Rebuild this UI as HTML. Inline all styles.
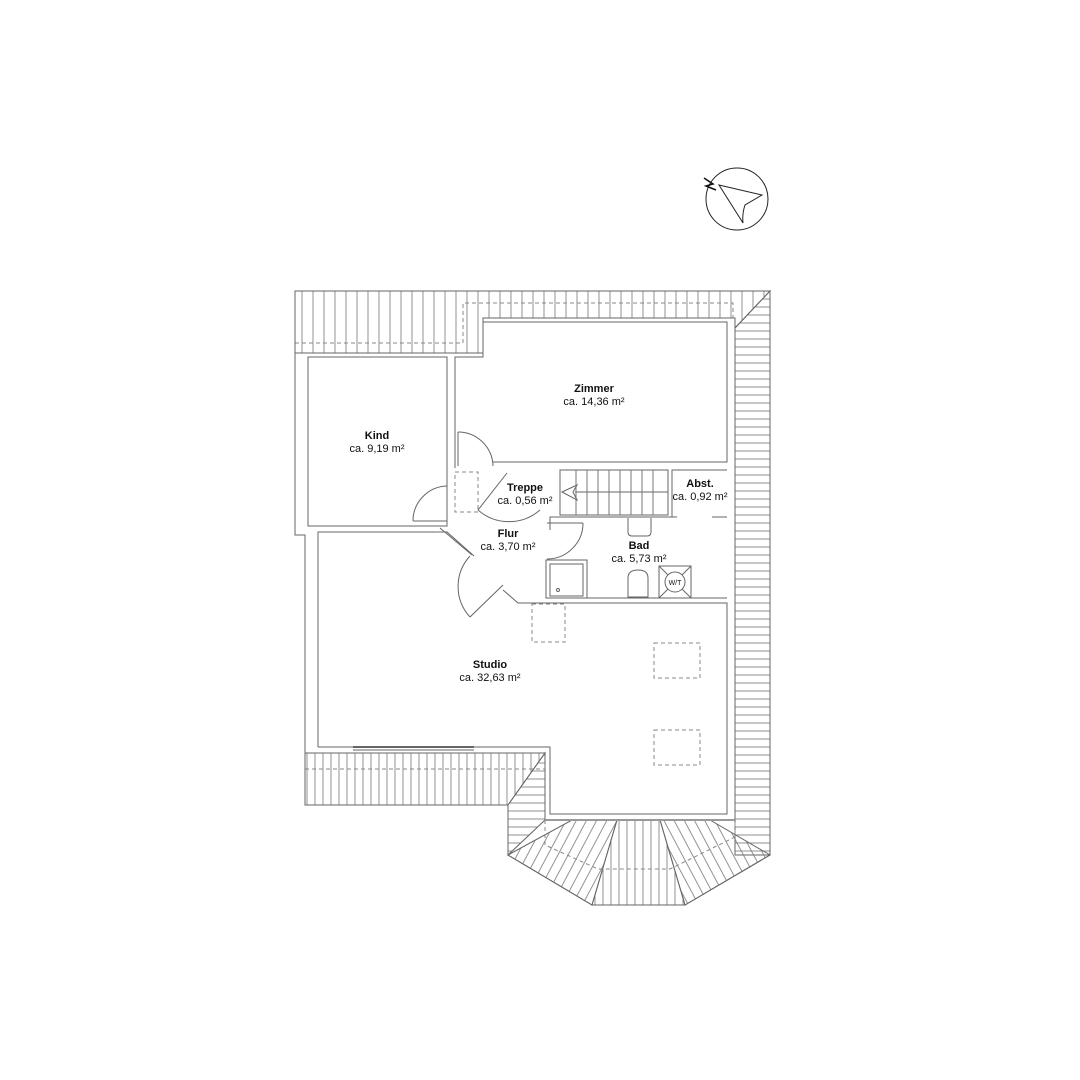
<!DOCTYPE html>
<html><head><meta charset="utf-8"><style>
html,body{margin:0;padding:0;background:#fff;}
svg{display:block}
text{font-family:"Liberation Sans",Arial,sans-serif;font-size:11px;fill:#111;text-anchor:middle}
.b{font-weight:bold}
</style></head><body>
<svg width="1080" height="1080" viewBox="0 0 1080 1080" xmlns="http://www.w3.org/2000/svg">
<defs>
<pattern id="pv" width="11" height="10" patternUnits="userSpaceOnUse"><line x1="5" y1="0" x2="5" y2="10" stroke="#777" stroke-width="0.8"/></pattern>
<pattern id="pv8" width="8" height="10" patternUnits="userSpaceOnUse"><line x1="3" y1="0" x2="3" y2="10" stroke="#777" stroke-width="0.8"/></pattern>
<pattern id="ph" width="10" height="8" patternUnits="userSpaceOnUse"><line x1="0" y1="3" x2="10" y2="3" stroke="#777" stroke-width="0.8"/></pattern>
<pattern id="pl" width="9" height="10" patternUnits="userSpaceOnUse" patternTransform="rotate(28)"><line x1="3" y1="0" x2="3" y2="10" stroke="#777" stroke-width="0.8"/></pattern>
<pattern id="pr" width="9" height="10" patternUnits="userSpaceOnUse" patternTransform="rotate(-28)"><line x1="3" y1="0" x2="3" y2="10" stroke="#777" stroke-width="0.8"/></pattern>
</defs>
<g stroke="#666" stroke-width="1" fill="none">
<polygon points="295,291 770,291 735,328 735,318 483,318 483,353 295,353" fill="url(#pv)"/>
<polygon points="735,328 770,291 770,855 735,855" fill="url(#ph)"/>
<polygon points="305,753 545,753 508,805 305,805" fill="url(#pv8)"/>
<polygon points="545,753 545,820 508,855 508,805" fill="url(#ph)"/>
<polygon points="508,855 572,820 617,820 592,905" fill="url(#pl)"/>
<polygon points="617,820 660,820 685,905 592,905" fill="url(#pv8)"/>
<polygon points="660,820 710,820 770,855 685,905" fill="url(#pr)"/>
<polyline points="508,855 592,905 685,905 770,855"/>
<g stroke-dasharray="4,3" stroke="#888">
<polyline points="295,343 463,343 463,303 733,303 733,318"/>
<line x1="305" y1="769" x2="545" y2="769"/>
<polyline points="545,820 545,845 598,869 670,869 735,837 735,820"/>
<rect x="455" y="472" width="23" height="40"/>
<rect x="532" y="604" width="33" height="38"/>
<rect x="654" y="643" width="46" height="35"/>
<rect x="654" y="730" width="46" height="35"/>
</g>
<polyline points="295,291 295,535 305,535 305,805"/>
<rect x="308" y="357" width="139" height="169"/>
<polyline points="455,468 455,357 483,357 483,322 727,322 727,462 493,462"/>
<polyline points="447,357 447,488"/>
<polyline points="318,747 318,532 447,532 474,556"/>
<polyline points="440,528 472,555"/>
<polyline points="318,747 550,747 550,814 727,814 727,603 518,603 503,590"/>
<polyline points="735,322 735,820"/>
<line x1="545" y1="820" x2="735" y2="820" stroke="#999" stroke-width="2"/>
<line x1="353" y1="747" x2="474" y2="747" stroke-width="2"/>
<line x1="353" y1="750" x2="474" y2="750"/>
<polyline points="550,530 550,517 677,517"/>
<polyline points="712,517 727,517"/>
<line x1="547" y1="598" x2="727" y2="598"/>
<polyline points="672,517 672,470 727,470"/>
<rect x="560" y="470" width="108" height="45"/>
<line x1="575" y1="492" x2="668" y2="492"/>
<g stroke="#777">
<line x1="576" y1="470" x2="576" y2="515"/><line x1="587" y1="470" x2="587" y2="515"/><line x1="598" y1="470" x2="598" y2="515"/><line x1="609" y1="470" x2="609" y2="515"/><line x1="620" y1="470" x2="620" y2="515"/><line x1="631" y1="470" x2="631" y2="515"/><line x1="642" y1="470" x2="642" y2="515"/><line x1="653" y1="470" x2="653" y2="515"/>
</g>
<polygon points="562,492 577,485 573,492 577,500" fill="#fff"/>
<line x1="458" y1="432" x2="458" y2="466"/><path d="M458,432 A35,35 0 0 1 493,466"/>
<line x1="413" y1="521" x2="447" y2="521"/><path d="M413,521 A35,35 0 0 1 447,486"/>
<line x1="507" y1="473" x2="478" y2="510"/><path d="M478,510 A47,47 0 0 0 540,510"/>
<line x1="547" y1="523" x2="583" y2="523"/><path d="M583,523 A36,36 0 0 1 547,559"/>
<line x1="503" y1="585" x2="470" y2="617"/><path d="M470,617 A45,45 0 0 1 470,556"/>
<rect x="546" y="560" width="41" height="38"/><rect x="550" y="564" width="33" height="32"/>
<circle cx="558" cy="590" r="1.5"/>
<path d="M628,518 L628,532 Q628,536 632,536 L647,536 Q651,536 651,532 L651,518"/>
<path d="M628,597 L628,578 Q628,570 638,570 Q648,570 648,578 L648,597 Z"/>
<rect x="659" y="566" width="32" height="32"/>
<line x1="659" y1="566" x2="691" y2="598"/><line x1="691" y1="566" x2="659" y2="598"/>
<circle cx="675" cy="582" r="10" fill="#fff"/>
<circle cx="737" cy="199" r="31" stroke="#222"/>
<path d="M719,185 L762,195 L745,205 Q742,214 743,223 Z" stroke="#222"/>
<polyline points="704,178 713,184 706,186 716,190" stroke="#111" stroke-width="1.5"/>
</g>
<text x="675" y="585" style="font-size:7px">W/T</text>
<text class="b" x="594" y="392">Zimmer</text><text x="594" y="405">ca. 14,36 m²</text>
<text class="b" x="377" y="439">Kind</text><text x="377" y="452">ca. 9,19 m²</text>
<text class="b" x="525" y="491">Treppe</text><text x="525" y="504">ca. 0,56 m²</text>
<text class="b" x="700" y="487">Abst.</text><text x="700" y="500">ca. 0,92 m²</text>
<text class="b" x="508" y="537">Flur</text><text x="508" y="550">ca. 3,70 m²</text>
<text class="b" x="639" y="549">Bad</text><text x="639" y="562">ca. 5,73 m²</text>
<text class="b" x="490" y="668">Studio</text><text x="490" y="681">ca. 32,63 m²</text>
</svg>
</body></html>
